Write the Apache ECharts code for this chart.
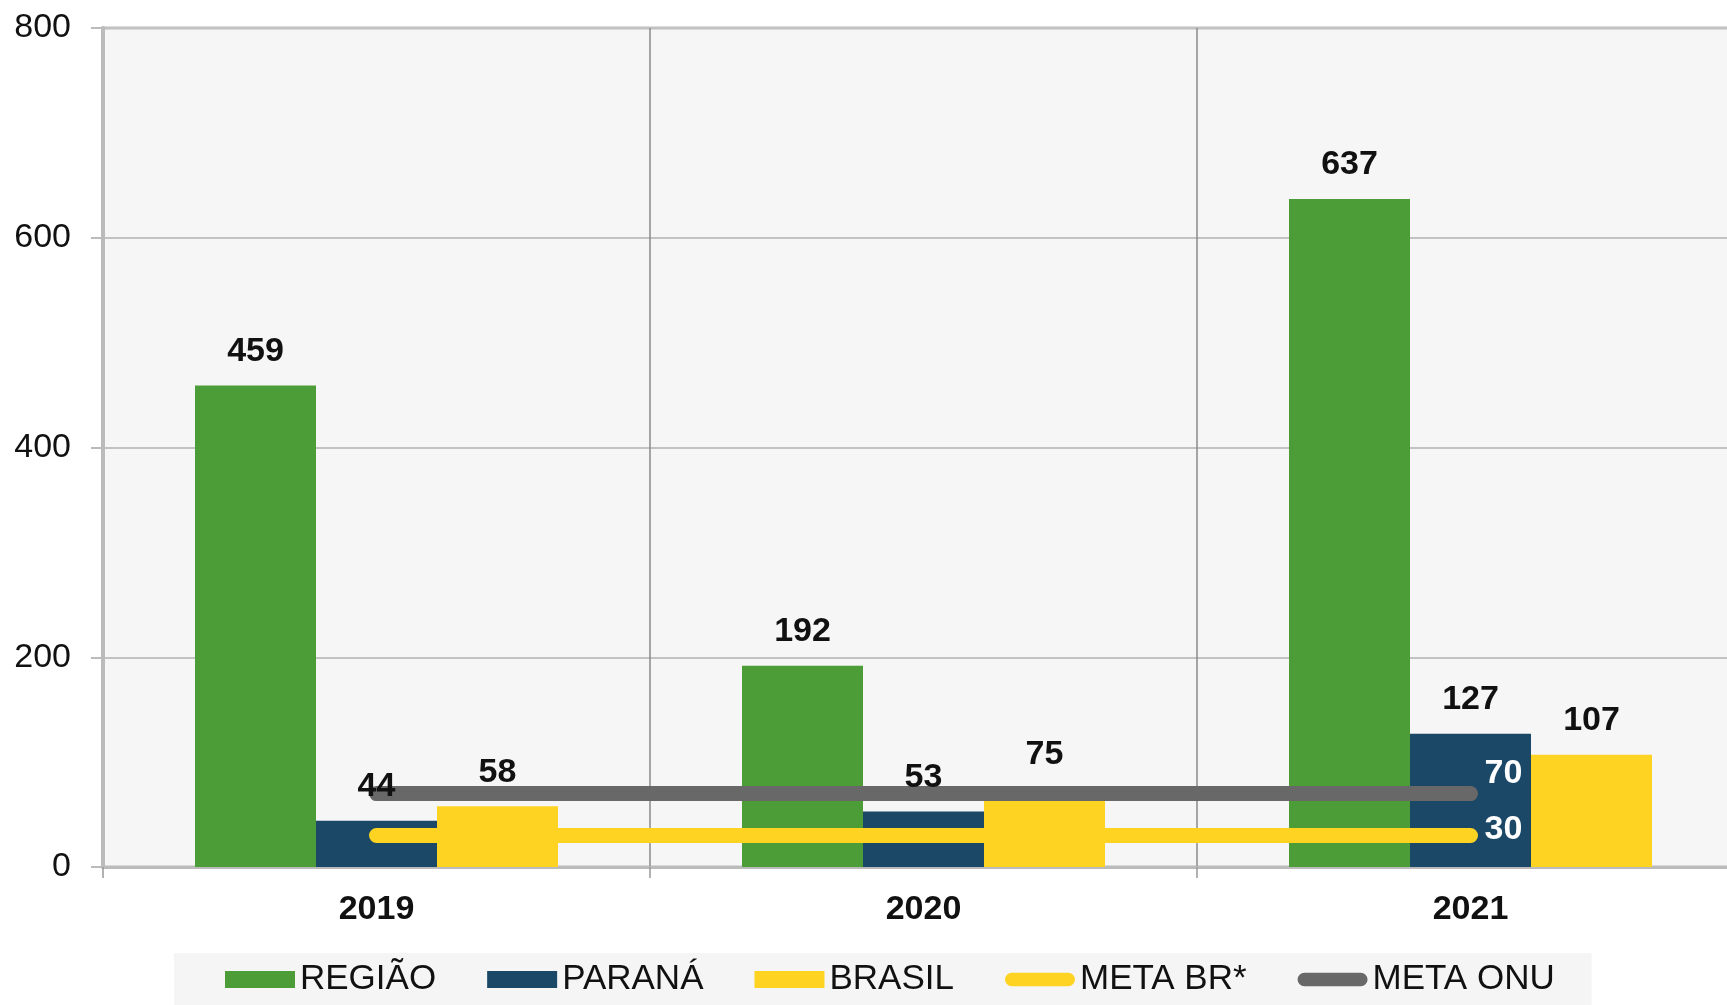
<!DOCTYPE html>
<html lang="pt">
<head>
    <meta charset="UTF-8">
    <title>Região x Paraná x Brasil</title>
    <script src="https://cdn.jsdelivr.net/npm/echarts@6/dist/echarts.min.js"></script>
    <style>
        html, body { margin: 0; padding: 0; background: #fff; }
        .box { width: 1727px; height: 1005px; }
    </style>
</head>
<body>
    <div class="box"></div>
</body>
<script>
 // dados
 let anos = ['2019', '2020', '2021']
 let regiao = [459, 192, 637]
 let parana = [44, 53, 127]
 let brasil = [58, 75, 107]
 let metaBr = [30, 30, 30]
 let metaOnu = [70, 70, 70]

 let fonte = "'Liberation Sans', Arial, sans-serif"
 let pill = 'path://M7.5,0 H69.5 A7.5,7.5 0 0 1 69.5,15 H7.5 A7.5,7.5 0 0 1 7.5,0 Z'

 let barLabel = {
    show: true,
    position: 'top',
    distance: 17,
    color: '#111',
    fontWeight: 'bold',
    fontSize: 34,
    fontFamily: fonte
 }

 // barras normais (sem rótulo) + cópia transparente por cima só p/ os rótulos
 function barra(nome, dados, cor, eixo) {
    let s = {
        name: nome,
        type: 'bar',
        data: dados,
        xAxisIndex: eixo,
        barWidth: 121,
        barGap: '0%',
        color: cor
    }
    if (eixo === 1) {
        s.itemStyle = { color: 'transparent' }
        s.label = barLabel
        s.silent = true
        s.z = 10
    }
    return s
 }

 let chart = echarts.init(document.querySelector('.box'));
 let option = {
    animation: false,
    textStyle: { fontFamily: fonte },
    grid: {
        show: true,
        left: 103,
        top: 28,
        width: 1641, // passa da borda direita como no original
        height: 839,
        outerBoundsMode: 'none',
        backgroundColor: '#F6F6F6',
        borderColor: '#BBBBBB',
        borderWidth: 3
    },
    legend: {
        left: 174,
        top: 953,
        padding: [9, 37, 24, 51],
        itemGap: 51,
        itemWidth: 70,
        itemHeight: 17,
        backgroundColor: '#F5F5F5',
        textStyle: { fontSize: 35, color: '#111', fontFamily: fonte },
        data: [
            { name: 'REGIÃO', icon: 'rect' },
            { name: 'PARANÁ', icon: 'rect' },
            { name: 'BRASIL', icon: 'rect' },
            { name: 'META BR*', icon: pill },
            { name: 'META ONU', icon: pill }
        ]
    },
    xAxis: [
        {
            type: 'category',
            data: anos,
            axisLine: { lineStyle: { color: '#BBBBBB', width: 3 } },
            axisTick: { show: true, length: 11, lineStyle: { color: '#999', width: 1.5 } },
            splitLine: { show: true, lineStyle: { color: '#8A8A8A', width: 1.5 } },
            axisLabel: { fontSize: 34, fontWeight: 'bold', color: '#111', margin: 26, fontFamily: fonte }
        },
        {
            type: 'category',
            data: anos,
            show: false
        }
    ],
    yAxis: {
        type: 'value',
        min: 0,
        max: 800,
        interval: 200,
        axisLine: { show: true, lineStyle: { color: '#BBBBBB', width: 4 } },
        axisTick: { show: true, length: 12, lineStyle: { color: '#BBBBBB', width: 2 } },
        splitLine: { lineStyle: { color: '#C2C2C2', width: 2 } },
        axisLabel: { fontSize: 34, color: '#111', margin: 32, fontFamily: fonte }
    },
    series: [
        barra('REGIÃO', regiao, '#4C9D37', 0),
        barra('PARANÁ', parana, '#1C4868', 0),
        barra('BRASIL', brasil, '#FFD321', 0),
        {
            name: 'META BR*',
            type: 'line',
            data: metaBr,
            symbol: 'none',
            color: '#FFD321',
            z: 5,
            lineStyle: { width: 15, cap: 'round', color: '#FFD321' },
            endLabel: {
                show: true,
                distance: 14,
                offset: [0, -6],
                color: '#fff',
                fontWeight: 'bold',
                fontSize: 34,
                fontFamily: fonte
            }
        },
        {
            name: 'META ONU',
            type: 'line',
            data: metaOnu,
            symbol: 'none',
            color: '#686868',
            z: 5,
            lineStyle: { width: 15, cap: 'round', color: '#686868' },
            endLabel: {
                show: true,
                distance: 14,
                offset: [0, -20],
                color: '#fff',
                fontWeight: 'bold',
                fontSize: 34,
                fontFamily: fonte
            }
        },
        barra('rótulo REGIÃO', regiao, '#4C9D37', 1),
        barra('rótulo PARANÁ', parana, '#1C4868', 1),
        barra('rótulo BRASIL', brasil, '#FFD321', 1)
    ]
 }
 chart.setOption(option)
</script>
</html>
